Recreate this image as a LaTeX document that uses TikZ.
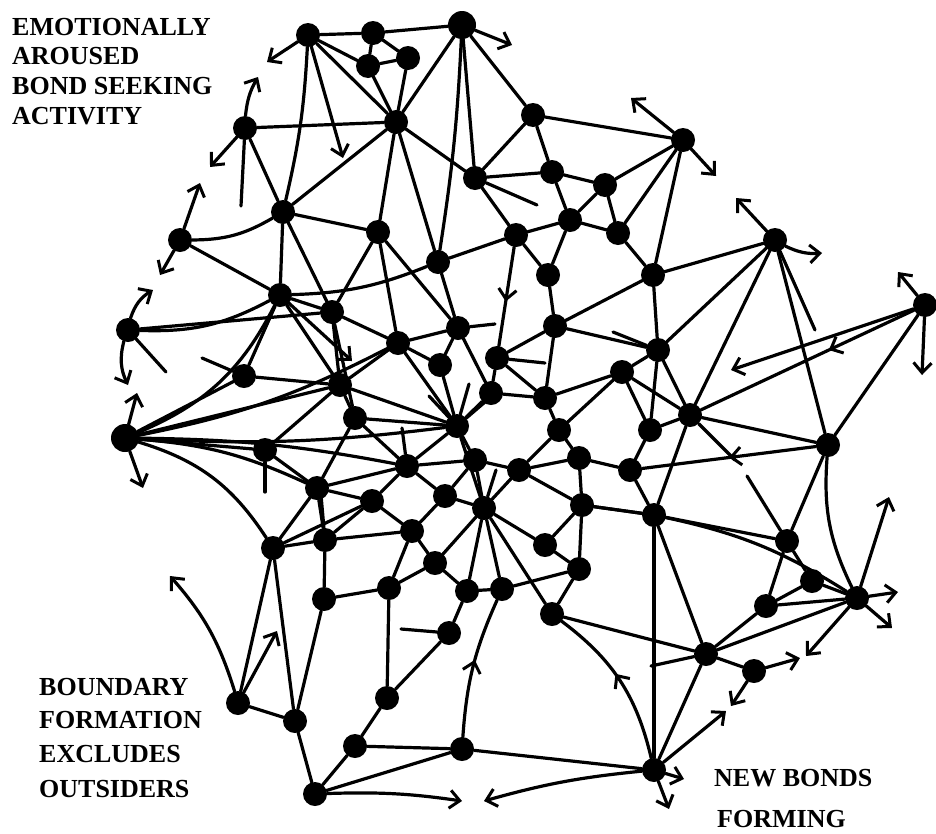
\documentclass[tikz,border=0pt]{standalone}
\usepackage{fontspec}
\setmainfont{Liberation Serif}
\usetikzlibrary{arrows.meta,decorations.markings}
\begin{document}
\begin{tikzpicture}[x=1pt,y=-1pt,
  netdot/.style={circle,fill=black,inner sep=0pt,minimum size=24pt},
  bigdot/.style={netdot,minimum size=28pt},
  tie/.style={line width=3.2pt,line cap=round},
  barb/.tip={Straight Barb[length=10pt,width=18pt,line width=3pt]},
  outarrow/.style={tie,-barb},
  midarrow/.style={postaction={decorate},decoration={markings,mark=at position #1 with {\arrow{barb}}}},
  lbl/.style={anchor=base west,inner sep=0pt,font=\fontsize{26}{30}\selectfont\bfseries}
]
\useasboundingbox (0,0) rectangle (936,833);

% ---- nodes of the network ----
\foreach \n/\x/\y in {
  A1/308/35, A2/373/33, A4/368/66, A5/408/58,
  B1/245/128, B2/396/122, B3/533/115, B4/683/140,
  C1/475/178, C2/552/172, C3/605/185,
  D1/283/212, D2/378/232, D3/516/235, D4/570/220, D5/618/233,
  E1/180/240, E2/775/240, E3/438/262, E4/548/275, E5/653/275,
  F1/280/295, F2/128/330, F3/332/312, F4/458/328, F5/555/326, F6/925/305,
  G1/398/343, G2/497/358, G3/658/350, G4/244/376, G5/340/385, G6/440/365, G7/622/372,
  H1/491/393, H2/545/398, H3/355/418, H4/457/426, H5/559/430, H6/690/415, H7/650/430,
  I1/265/450, I2/407/466, I3/475/460, I4/519/470, I5/579/458, I6/630/470, I7/828/445,
  J1/317/488, J2/372/501, J3/445/496, J4/484/508, J5/582/505, J6/654/515,
  K1/273/548, K2/325/540, K3/412/531, K4/545/545, K5/787/541, K6/435/563,
  M1/324/599, M2/389/588, M3/467/591, M4/502/589, M5/579/569, M6/552/614, M7/449/633,
  N1/706/654, N2/754/671, N3/766/606, N4/812/581, N5/857/598,
  P1/238/703, P2/295/721, P3/387/698, P4/355/746, P5/462/749, P6/315/794, P7/654/770}
  \node[netdot] (\n) at (\x,\y) {};
\node[bigdot] (A3) at (462,25) {};
\node[bigdot] (L) at (125,438) {};

% ---- straight bonds ----
\foreach \a/\b in {
  A1/A2, A2/A3, A2/A4, A4/A5, A2/A5, A1/A4, A1/B2, A4/B2, A5/B2, A3/B2, A3/C1, A3/B3,
  B1/B2, B1/D1, B2/C1, B2/D2, B2/E3, B2/D1, B3/C1, B3/C2, B3/B4,
  C1/C2, C1/D3, C2/C3, C2/D4, C3/D5, D4/D5, D3/D4, D3/E4, D4/E4, D3/E3, C3/D4,
  B4/C3, B4/D5, B4/E5, E2/E5, E2/G3, E2/H6, E2/I7, E5/D5, E5/G3,
  E1/F1, F2/F3, F1/F3, F1/G4, F1/G5, D1/F1, D1/F3, D1/D2, F3/G1, F3/G5, D2/F3, F3/H3,
  D2/G1, G1/F4, G1/G6, G1/G5, E3/F4, D2/F4, F4/H1, F4/G6, G2/F5, G2/H1, E4/F5,
  F5/H2, F5/G3, F5/E5, H1/H2, H1/H4, H2/H5, H2/G7, H5/G7, H5/I4, H5/I5,
  H4/G6, H4/H3, H4/I3, H3/G5, H3/I2, H3/J1, I2/J2, I2/J3, I2/J1, I2/I3,
  I3/I4, I3/J4, I3/J3, I4/I5, I4/J5, I4/J4, J3/J4, J3/K3, J2/K3, J2/J1, J2/K2,
  K2/J1, K2/K1, K2/M1, K2/K3, K3/K6, K3/M2, K6/M3, K6/M2, M1/M2, M2/P3,
  M3/M4, M3/M7, M4/M5, M4/J4, M5/M6, M5/J5, K4/J5, K4/M5, K4/J4, M6/N1,
  N1/N2, N1/N3, N1/N5, N1/P7, N3/N4, N3/N5, N3/K5, N4/N5, N4/K5,
  K5/J6, K5/I7, J6/I6, J6/N1, J6/J5, I6/H7, I6/I5, H7/H6, H7/G7,
  H6/G3, H6/I7, H6/J6, G3/G7, G3/H7, G7/H6, F6/I7,
  G4/L, L/G5, L/I1, I1/J1, I1/G5, G4/G5, J1/K1, K1/P1, K1/P2, P1/P2,
  P2/P6, P4/P6, P4/P5, P3/P4, P3/M7, P5/P6, P5/P7, J4/M3, J4/M6, J4/K6,
  P7/J6, I5/J5, J5/J6, G5/H4, G1/H4, H4/J4, H4/I2, G2/H2, K1/J2, M1/P2}
  \draw[tie] (\a) -- (\b);

% ---- curved bonds ----
\draw[tie] (E1) to[bend right=15] (D1);
\draw[tie] (F2) to[bend right=15] (F1);
\draw[tie] (L) to[bend right=20] (F1);
\draw[tie] (L) to[bend left=10] (J1);
\draw[tie] (L) to[bend left=20] (K1);
\draw[tie] (L) to[bend right=5] (H4);
\draw[tie] (L) to[bend left=5] (I2);
\draw[tie] (L) to[bend right=8] (G1);
\draw[tie] (F1) to[bend right=10] (E3);
\draw[tie] (A3) to[bend left=3] (E3);
\draw[tie] (A1) to[bend left=5] (D1);
\draw[tie] (I7) to[bend right=15] (N5);
\draw[tie] (J6) to[bend left=10] (N5);

% ---- bonds carrying an arrow along the way ----
\draw[tie,midarrow=0.55] (P7) to[bend right=20] (M6);
\draw[tie,midarrow=0.55] (P5) to[bend left=10] (M4);
\draw[tie,midarrow=0.55] (D3) -- (G2);
\draw[tie,midarrow=0.4] (F6) -- (H6);
\draw[tie,midarrow=0.5] (I7) -- (I6);

% ---- outward arrows ----
\foreach \n/\x/\y in {
  A1/267/62, A1/343/158, A3/512/45, B1/210/167, E1/200/183, E1/160/275,
  L/137/393, L/143/488, B4/631/98, B4/716/176, E2/736/198,
  F6/898/272, F6/922/375, F6/731/370, N5/889/497, N5/898/592, N5/892/628,
  N5/806/656, N2/800/658, N2/731/706, P7/726/711, P7/684/779, P7/669/809,
  P1/277/631, F1/352/361}
  \draw[outarrow] (\n) -- (\x,\y);
\coordinate (tipB1) at (258,77);
\coordinate (tipF2a) at (153,290);
\coordinate (tipF2b) at (128,385);
\coordinate (tipE2) at (822,253);
\coordinate (tipP6) at (462,801);
\coordinate (tipP7) at (484,801);
\coordinate (tipP1) at (170,576);
\draw[outarrow] (B1) to[bend left=12] (tipB1);
\draw[outarrow] (F2) to[bend left=20] (tipF2a);
\draw[outarrow] (F2) to[bend right=20] (tipF2b);
\draw[outarrow] (E2) to[bend right=15] (tipE2);
\draw[outarrow] (P6) to[bend left=5] (tipP6);
\draw[outarrow] (P7) to[bend right=5] (tipP7);
\draw[outarrow] (P1) to[bend right=12] (tipP1);

% ---- broken-off strokes ----
\foreach \n/\dx/\dy in {
  H4/-28/-30, H4/12/-42, H4/35/-30, G2/48/5, F4/37/-4, C1/62/27, B1/-4/78,
  I1/0/42, G4/-42/-18, F2/38/42, I2/-5/-38, J4/12/-38, K5/-40/-65, N1/-55/12,
  H6/45/45, M7/-48/-4, E2/40/90, G3/-45/-18, K2/-4/-45}
  \draw[tie] (\n) -- ++(\dx,\dy);

% ---- captions ----
\node[lbl] (t1) at (12,35) {EMOTIONALLY};
\node[lbl] (t2) at (12,64) {AROUSED};
\node[lbl] (t3) at (12,94) {BOND SEEKING};
\node[lbl] (t4) at (12,124) {ACTIVITY};
\node[lbl] (b1) at (39,695) {BOUNDARY};
\node[lbl] (b2) at (39,728) {FORMATION};
\node[lbl] (b3) at (39,762) {EXCLUDES};
\node[lbl] (b4) at (39,797) {OUTSIDERS};
\node[lbl] (r1) at (714,786) {NEW BONDS};
\node[lbl] (r2) at (717,827) {FORMING};
\end{tikzpicture}
\end{document}
